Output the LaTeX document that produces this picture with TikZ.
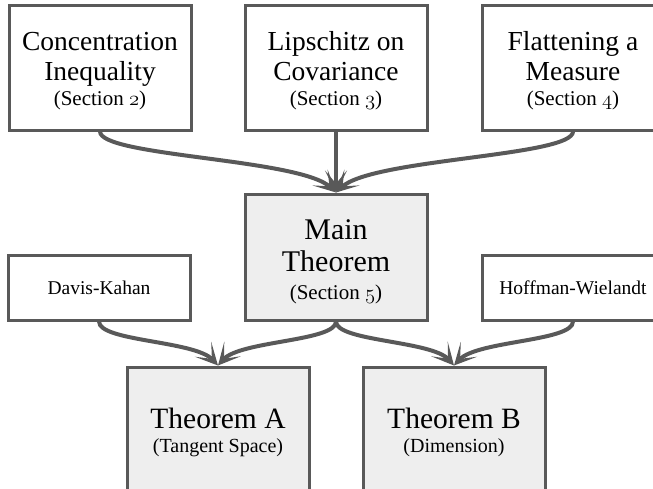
\documentclass[tikz,border=0pt]{standalone}
\usepackage{fontspec}
\setmainfont{Liberation Serif}
\usetikzlibrary{arrows.meta}
\definecolor{edgegray}{HTML}{595959}
\definecolor{boxfill}{HTML}{EEEEEE}
\newcommand{\bigtxt}{\fontsize{27.5}{30}\selectfont}
\newcommand{\sectxt}{\fontsize{21}{25}\selectfont}
\newcommand{\osn}[1]{\ensuremath{\mathnormal{#1}}}
\begin{document}
\begin{tikzpicture}[x=1pt,y=-1pt,
  box/.style={draw=edgegray,line width=3pt,minimum width=182pt,inner sep=0pt,align=center,text=black},
  plainbox/.style={box,fill=white},
  greybox/.style={box,fill=boxfill},
  topbox/.style={plainbox,minimum height=125pt,font=\bigtxt},
  link/.style={draw=edgegray,line width=4pt,-{Stealth[length=22pt,width=22pt,inset=13pt]}},
]
\useasboundingbox (0,0) rectangle (653,488);
\clip (0,0) rectangle (653,488);

\node[topbox] (c1) at (100,67.5)
  {\rule{0pt}{25pt}Concentration\\Inequality\\[-5pt]{\sectxt (Section \osn{2})}};
\node[topbox] (c2) at (336,67.5)
  {\rule{0pt}{25pt}Lipschitz on\\Covariance\\[-5pt]{\sectxt (Section \osn{3})}};
\node[topbox] (c3) at (573,67.5)
  {\rule{0pt}{25pt}Flattening a\\Measure\\[-5pt]{\sectxt (Section \osn{4})}};

\node[greybox,minimum height=126pt,font=\fontsize{30}{32}\selectfont] (main) at (336,257)
  {\rule{0pt}{29pt}Main\\Theorem\\[-4pt]{\sectxt (Section \osn{5})}};

\node[plainbox,minimum height=65pt,font=\fontsize{19.5}{22}\selectfont] (dk) at (99,287.5)
  {Davis-Kahan};
\node[plainbox,minimum height=65pt,font=\fontsize{19.5}{22}\selectfont] (hw) at (573,287.5)
  {Hoffman-Wielandt};

\node[greybox,minimum height=130pt,font=\fontsize{29.5}{34}\selectfont] (ta) at (218,432)
  {Theorem A\\[-10pt]{\fontsize{20}{23}\selectfont (Tangent Space)}};
\node[greybox,minimum height=130pt,font=\fontsize{29.5}{34}\selectfont] (tb) at (454,432)
  {Theorem B\\[-10pt]{\fontsize{20}{23}\selectfont (Dimension)}};

\draw[link] (c1.south) .. controls +(0,25) and +(-36,-34) .. (main.north);
\draw[link] (c2.south) -- (main.north);
\draw[link] (c3.south) .. controls +(0,25) and +(36,-34) .. (main.north);

\draw[link] (dk.south) .. controls +(0,20) and +(-23,-25) .. (ta.north);
\draw[link] (main.south) .. controls +(0,20) and +(22,-25) .. (ta.north);
\draw[link] (main.south) .. controls +(0,20) and +(-22,-25) .. (tb.north);
\draw[link] (hw.south) .. controls +(0,20) and +(23,-25) .. (tb.north);
\end{tikzpicture}
\end{document}
